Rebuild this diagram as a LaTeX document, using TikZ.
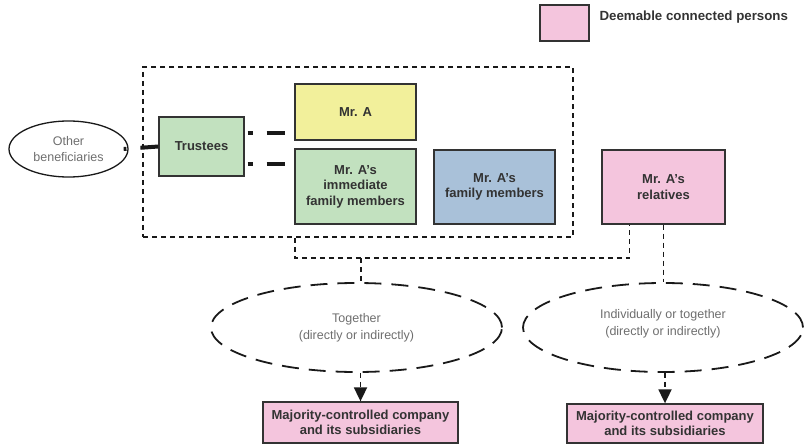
\documentclass[tikz,border=0pt]{standalone}
\usepackage{fontspec}
\setmainfont{Liberation Sans}
\usetikzlibrary{shapes.geometric,arrows.meta}
\definecolor{cyel}{HTML}{F2F09B}
\definecolor{cgrn}{HTML}{C2E1BF}
\definecolor{cblu}{HTML}{A9C1D9}
\definecolor{cpnk}{HTML}{F4C5DD}
\definecolor{cbrd}{HTML}{333333}
\definecolor{ctxt}{HTML}{333333}
\definecolor{cgry}{HTML}{6E6E6E}
\begin{document}
\begin{tikzpicture}[x=1pt,y=-1pt,
  box/.style={draw=cbrd, line width=1.3pt, rectangle, inner sep=0pt, align=center,
    text=ctxt, font=\bfseries\fontsize{13}{15.5}\selectfont},
  thickc/.style={line width=4pt, draw=black!90},
  thind/.style={line width=1.8pt, draw=black!90, dash pattern=on 5pt off 4pt},
  dell/.style={ellipse, draw=black!90, line width=1.8pt, dash pattern=on 17pt off 10pt,
    inner sep=0pt, align=center, text=cgry, font=\fontsize{12.5}{17}\selectfont},
  arr/.style={-{Triangle[length=14pt,width=13pt]}}
]
\useasboundingbox (0,0) rectangle (806,444);

% legend
\node[box, fill=cpnk, minimum width=49pt, minimum height=36pt] (leg) at (564.5,23) {};
\node[anchor=west, text=ctxt, font=\bfseries\fontsize{13.3}{15.5}\selectfont] (legt) at (596,17.5) {Deemable connected persons};

% group
\node[thind, rectangle, minimum width=430pt, minimum height=170pt, inner sep=0pt] (grp) at (358,152) {};

\node[box, fill=cyel, minimum width=121pt, minimum height=56pt] (mra) at (355.5,112) {Mr. A};
\node[box, fill=cgrn, minimum width=121pt, minimum height=75pt] (imm) at (355.5,186.5) {Mr. A’s\\immediate\\family members};
\node[box, fill=cblu, minimum width=121pt, minimum height=74pt] (fam) at (494.5,187) {Mr. A’s\\family members};
\node[box, fill=cpnk, minimum width=123pt, minimum height=74pt] (rel) at (663.5,187) {Mr. A’s\\relatives};
\node[box, fill=cgrn, minimum width=85pt, minimum height=59pt] (tr) at (201.5,146.5) {Trustees};
\node[ellipse, draw=black!90, line width=1.3pt, minimum width=119pt, minimum height=56pt, inner sep=0pt,
  align=center, text=cgry, font=\fontsize{12.5}{15.5}\selectfont] (ob) at (68.5,149) {Other\\beneficiaries};

% thick connectors
\draw[thickc, dash pattern=on 18pt off 14pt on 10pt] (tr.west) -- ([xshift=-5pt]ob.east);
\coordinate (t1) at ([yshift=13.5pt]tr.east);
\coordinate (t2) at ([yshift=-17.5pt]tr.east);
\draw[thickc, dash pattern=on 0pt off 3pt on 5pt off 14pt on 18pt off 30pt] (t1) -- (t1 -| mra.west);
\draw[thickc, dash pattern=on 0pt off 3pt on 5pt off 14pt on 18pt off 30pt] (t2) -- (t2 -| imm.west);

% ellipses
\node[dell, minimum width=291pt, minimum height=89pt] (e1) at (356.5,327.5) {Together\\(directly or indirectly)};
\node[dell, minimum width=280pt, minimum height=89pt, text depth=10pt] (e2) at (663,327.5) {Individually or together\\(directly or indirectly)};

% bottom boxes
\node[box, fill=cpnk, minimum width=195pt, minimum height=41pt] (b1) at (360.5,422.5) {Majority-controlled company\\and its subsidiaries};
\node[box, fill=cpnk, minimum width=196pt, minimum height=39pt] (b2) at (665,423.5) {Majority-controlled company\\and its subsidiaries};

% thin dashed connectors
\coordinate (j1) at (295,258);
\coordinate (j2) at (361,258);
\coordinate (j3) at (629.5,258);
\draw[thind] (grp.south -| j1) -- (j1) -- (j3) -- (j3 |- rel.south);
\draw[thind] (j2) -- (j2 |- e1.north);
\draw[thind] (rel.south) -- (rel.south |- e2.north);
\draw[thind, arr] (e1.south -| b1.north) -- (b1.north);
\draw[thind, arr] (e2.south -| b2.north) -- (b2.north);
\end{tikzpicture}
\end{document}
